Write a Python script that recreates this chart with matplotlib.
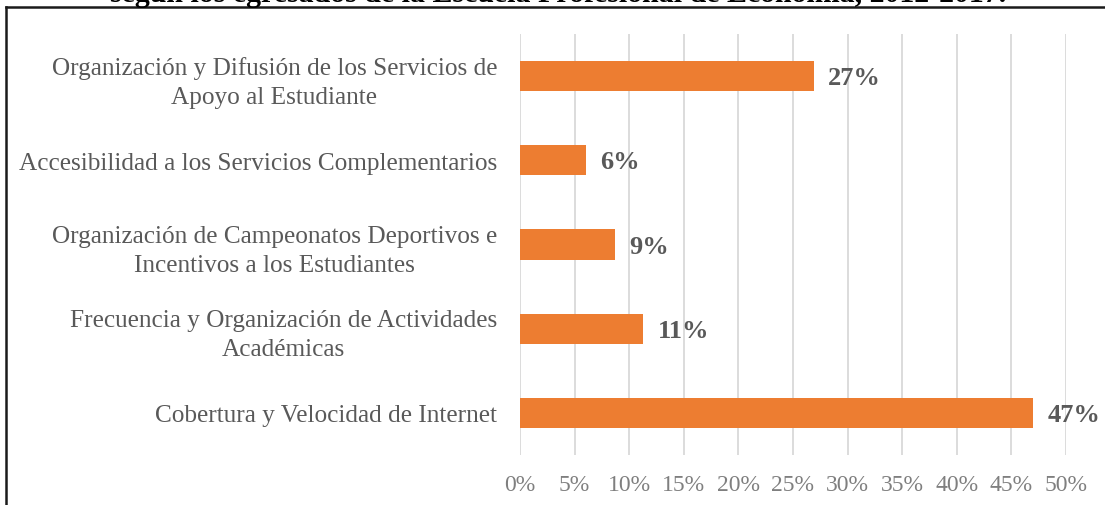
import matplotlib
matplotlib.use('Agg')
import matplotlib.pyplot as plt
from matplotlib.lines import Line2D
import numpy as np

# data
categories = [
    'Cobertura y Velocidad de Internet',
    'Frecuencia y Organización de Actividades\nAcadémicas',
    'Organización de Campeonatos Deportivos e\nIncentivos a los Estudiantes',
    'Accesibilidad a los Servicios Complementarios',
    'Organización y Difusión de los Servicios de\nApoyo al Estudiante',
]
values = [47.0, 11.3, 8.7, 6.0, 26.9]
xticks = list(range(0, 55, 5))

title = 'según los egresados de la Escuela Profesional de Economía, 2012-2017.'

plt.rcParams['font.family'] = ['Liberation Serif', 'DejaVu Serif']

W, H = 1105, 506
fig = plt.figure(figsize=(W / 100, H / 100), dpi=100)
ax = fig.add_axes([520 / W, 50 / H, 546 / W, 421 / H])

y = np.arange(len(categories))
ax.barh(y, values, height=0.36, color='#ED7D31', zorder=3)

for yi, v in zip(y, values):
    ax.text(v + 1.3, yi - 0.02, '{0}%'.format(int(round(v))), va='center', ha='left',
            fontsize=19, fontweight='bold', color='#595959', zorder=4)

ax.set_xlim(0, 50)
ax.set_ylim(-0.5, 4.5)
ax.set_xticks(xticks)
ax.set_xticklabels(['{0}%'.format(t) for t in xticks], fontsize=17, color='#7F7F7F')
ax.set_yticks(y)
ax.set_yticklabels(categories, fontsize=18.2, color='#595959', linespacing=1.4)
ax.tick_params(axis='both', length=0)
ax.tick_params(axis='x', pad=14)
ax.tick_params(axis='y', pad=16.5)
for lbl in ax.get_yticklabels():
    lbl.set_horizontalalignment('right')
    lbl.set_multialignment('center')

ax.xaxis.grid(True, color='#D9D9D9', linewidth=1.3, zorder=0)
for s in ax.spines.values():
    s.set_visible(False)
ax.set_facecolor('none')

# frame of the chart box (cut at right and bottom)
fig.add_artist(Line2D([6 / W, 6 / W], [0, 1 - 8 / H], color='#1a1a1a', linewidth=1.8,
                      transform=fig.transFigure))
fig.add_artist(Line2D([6 / W, 1], [1 - 8 / H, 1 - 8 / H], color='#1a1a1a', linewidth=1.8,
                      transform=fig.transFigure))

# title, mostly cut off at the top edge
fig.text(558 / W, 1 - 1.5 / H, title, ha='center', va='baseline', fontsize=21.5,
         fontweight='bold', color='black')

fig.savefig('out.png', dpi=100)
